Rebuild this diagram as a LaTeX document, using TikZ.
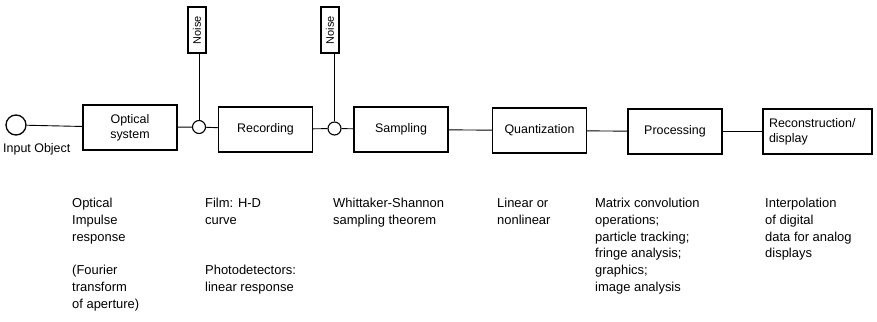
\documentclass[tikz,border=0pt]{standalone}
\usepackage{fontspec}
\setmainfont{Liberation Sans}
\begin{document}
\begin{tikzpicture}[x=1bp,y=-1bp,
  blk/.style={draw, line width=1.3bp, minimum width=94bp, minimum height=45bp, inner sep=2bp, font=\fontsize{12.5}{15}\selectfont, align=center},
  noisebox/.style={draw, line width=1.3bp, rotate=90, minimum width=46bp, minimum height=18bp, inner sep=1bp, font=\fontsize{11}{12}\selectfont},
  junc/.style={circle, draw, line width=1.1bp, minimum size=13bp, inner sep=0pt},
  wire/.style={line width=0.9bp},
  note/.style={anchor=north west, align=left, font=\fontsize{13}{16.8}\selectfont, inner sep=0pt}]
\useasboundingbox (0,0) rectangle (877,321);
\node[circle, draw, line width=1.3bp, minimum size=20bp, inner sep=0pt] (in) at (16,125) {};
\node[anchor=north west, inner sep=0pt, font=\fontsize{12.5}{14}\selectfont] (inlab) at (3,143) {Input Object};
\node[blk] (opt) at (130,127.5) {Optical\\system};
\node[junc] (j1) at (199,127) {};
\node[blk] (rec) at (265.5,129.5) {Recording};
\node[junc] (j2) at (334.5,128.5) {};
\node[blk] (sam) at (401,129.5) {Sampling};
\node[blk] (qua) at (539.5,130.5) {Quantization};
\node[blk] (pro) at (675,131.5) {Processing};
\node[blk, text width=97bp, inner xsep=6bp, align=left] (recon) at (817.5,131.5) {Reconstruction/\\display};
\node[noisebox] (n1) at (197,30) {Noise};
\node[noisebox] (n2) at (330,30) {Noise};
\draw[wire] (in) -- (opt);
\draw[wire] (opt) -- (j1);
\draw[wire] (j1) -- (rec);
\draw[wire] (rec) -- (j2);
\draw[wire] (j2) -- (sam);
\draw[wire] (sam) -- (qua);
\draw[wire] (qua) -- (pro);
\draw[wire] (pro) -- (recon);
\draw[wire] (n1.west -| j1) -- (j1);
\draw[wire] (n2.west -| j2) -- (j2);
\node[note] (t1) at (72,198) {Optical\\Impulse\\response\\[16.8bp](Fourier\\transform\\of aperture)};
\node[note] (t2) at (205,198) {Film: H-D\\curve\\[33.6bp]Photodetectors:\\linear response};
\node[note] (t3) at (333,198) {Whittaker-Shannon\\sampling theorem};
\node[note] (t4) at (497,198) {Linear or\\nonlinear};
\node[note] (t5) at (595,198) {Matrix convolution\\operations;\\particle tracking;\\fringe analysis;\\graphics;\\image analysis};
\node[note] (t6) at (765,198) {Interpolation\\of digital\\data for analog\\displays};
\end{tikzpicture}
\end{document}
